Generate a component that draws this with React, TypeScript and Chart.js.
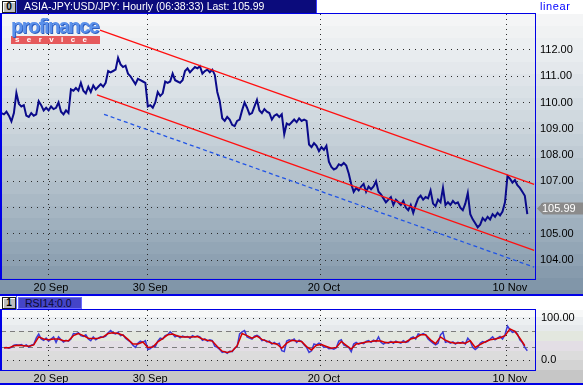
import React, { useEffect, useRef } from "react";
import { Chart, registerables } from "chart.js";

Chart.register(...registerables);

// ---------- data ----------
// x axis: trading days counted from 20 Sep (weekends removed)
const X_TICK_VALUES = [0, 8, 22, 37];
const X_TICK_LABELS = ["20 Sep", "30 Sep", "20 Oct", "10 Nov"];
const X_MIN = -3.79;
const X_MAX = 39.27;

const PRICE_START = -3.75;
const PRICE_STEP = 0.2;
const PRICES = [
  109.6, 109.55, 109.65, 109.5, 109.28, 109.6, 110.36, 109.95, 109.85, 109.9,
  109.5, 109.45, 109.6, 109.5, 109.55, 110.05, 109.9, 109.7, 109.8, 109.7,
  109.85, 109.75, 109.8, 110.0, 109.65, 109.55, 109.7, 109.6, 110.5, 110.45,
  110.55, 110.45, 110.75, 110.45, 110.35, 110.6, 110.4, 110.65, 110.5, 110.6,
  110.7, 110.6, 110.75, 111.2, 111.15, 111.2, 111.25, 111.7, 111.45, 111.35,
  111.4, 111.1, 111.0, 110.85, 110.7, 110.9, 110.85, 110.8, 110.75, 109.85,
  109.9, 109.8, 110.0, 110.4, 110.25, 110.35, 110.8, 110.75, 110.8, 111.1,
  110.85, 110.8, 110.75, 110.85, 111.2, 111.3, 111.15, 111.25, 111.35, 111.3,
  111.38, 111.1, 111.2, 111.25, 111.15, 111.25, 111.05, 110.4, 110.05, 109.4,
  109.3, 109.45, 109.35, 109.15, 109.1, 109.3, 109.35, 109.7, 110.0, 109.8,
  109.55, 109.6, 109.85, 110.1, 109.7, 109.6, 109.75, 109.65, 109.6, 109.35,
  109.5, 109.55, 109.45, 109.55, 108.8, 109.2, 109.15, 109.25, 109.35, 109.25,
  109.4, 109.3, 109.35, 109.3, 108.4, 108.3, 108.45, 108.35, 108.15, 108.3,
  108.2, 108.35, 107.75, 107.55, 107.45, 107.5, 107.65, 107.6, 107.7, 107.6,
  107.3, 106.9, 106.6, 106.75, 106.65, 106.8, 106.9, 106.6, 106.8, 106.7,
  106.8, 107.0, 106.6, 106.5, 106.35, 106.2, 106.3, 106.4, 106.1, 106.3,
  106.2, 106.1, 106.25, 106.0, 105.9, 106.1, 105.8, 106.1, 106.35, 106.45,
  106.3, 106.4, 106.35, 106.65, 106.15, 106.05, 106.3, 106.2, 106.75, 106.1,
  106.2, 106.1, 106.25, 106.15, 106.2, 106.0, 105.9, 106.15, 106.55, 105.75,
  105.55, 105.4, 105.25, 105.35, 105.6, 105.5, 105.65, 105.55, 105.75, 105.65,
  105.8, 105.7, 105.85, 106.2, 107.2, 107.1, 106.95, 107.05, 106.85, 106.75,
  106.6, 106.45, 105.75,
];
const LAST_PRICE = 105.99;
const PRICE_TICKS = [104, 105, 106, 107, 108, 109, 110, 111, 112];
const PRICE_MIN = 103.28;
const PRICE_MAX = 113.37;

// trend channel (start / end in trading days and price)
const UPPER_X = [4.19, 39.2];
const UPPER_Y = [112.76, 106.88];
const LOWER_X = [3.95, 39.2];
const LOWER_Y = [110.29, 104.37];
const DASHED_X = [4.52, 39.2];
const DASHED_Y = [109.55, 103.73];

// RSI(14)
const RSI_START = -3.55;
const RSI_STEP = 0.2;
const RSI_VALUES = [
  29, 30, 28, 30, 35, 36, 35, 37, 33, 36,
  31, 35, 37, 52, 62, 50, 47, 52, 45, 50,
  55, 42, 55, 48, 43, 47, 45, 50, 63, 62,
  65, 58, 56, 60, 50, 46, 55, 48, 52, 55,
  54, 57, 65, 70, 64, 62, 66, 58, 60, 52,
  47, 43, 35, 30, 40, 45, 42, 46, 25, 27,
  33, 32, 45, 52, 50, 58, 60, 67, 62, 55,
  58, 53, 57, 55, 56, 52, 58, 55, 57, 55,
  47, 50, 45, 48, 46, 33, 30, 25, 18, 20,
  16, 21, 20, 28, 32, 62, 67, 70, 55, 52,
  50, 57, 59, 55, 46, 48, 43, 45, 38, 42,
  37, 40, 22, 20, 45, 48, 46, 50, 42, 47,
  44, 36, 30, 18, 22, 38, 36, 40, 37, 30,
  32, 27, 28, 26, 29, 45, 48, 36, 33, 30,
  20, 38, 42, 38, 41, 39, 44, 46, 42, 47,
  44, 55, 42, 38, 42, 40, 44, 40, 45, 42,
  40, 46, 42, 44, 52, 55, 50, 62, 60, 63,
  60, 50, 45, 40, 36, 40, 60, 66, 42, 44,
  40, 43, 38, 42, 40, 43, 38, 52, 45, 30,
  25, 30, 40, 44, 42, 46, 50, 55, 48, 52,
  56, 50, 60, 81, 72, 66, 68, 62, 48, 42,
  30, 22,
];
const RSI_SIGNAL_STEP = 0.4;
const RSI_SIGNAL = [
  29, 29, 34, 35, 34, 33, 36, 55, 50, 48,
  50, 50, 46, 46, 58, 63, 58, 52, 51, 52,
  55, 63, 65, 63, 59, 49, 38, 38, 43, 30,
  31, 43, 51, 60, 62, 57, 55, 55, 55, 56,
  50, 47, 45, 32, 21, 18, 21, 34, 63, 58,
  52, 57, 49, 45, 40, 38, 28, 40, 47, 45,
  44, 32, 24, 35, 37, 32, 28, 30, 44, 35,
  26, 38, 40, 43, 44, 46, 45, 41, 42, 43,
  42, 43, 50, 53, 60, 60, 48, 39, 55, 47,
  42, 40, 41, 40, 46, 30, 37, 43, 48, 50,
  53, 58, 74, 68, 52, 34,
];
const RSI_TICKS = [0, 100];
const RSI_TICK_LABELS = ["0.0", "100.00"];
const RSI_LEVELS = [30, 70];
const RSI_MIN = -23.8;
const RSI_MAX = 119.05;

// ---------- styling helpers ----------
const FONT = "'Liberation Sans', Arial, sans-serif";
const BORDER_BLUE = "#0000e6";

function hexToRgb(h: string) {
  const n = parseInt(h.slice(1), 16);
  return [(n >> 16) & 255, (n >> 8) & 255, n & 255];
}
function lerpColor(stops: [number, string][], t: number) {
  if (t <= stops[0][0]) return stops[0][1];
  for (let i = 1; i < stops.length; i++) {
    if (t <= stops[i][0]) {
      const [t0, c0] = stops[i - 1];
      const [t1, c1] = stops[i];
      const f = (t - t0) / (t1 - t0);
      const a = hexToRgb(c0);
      const b = hexToRgb(c1);
      const r = a.map((v, k) => Math.round(v + (b[k] - v) * f));
      return `rgb(${r[0]},${r[1]},${r[2]})`;
    }
  }
  return stops[stops.length - 1][1];
}

const MAIN_BG: [number, string][] = [
  [0, "#f6f7f7"],
  [0.16, "#e7ebee"],
  [0.34, "#d3dbe1"],
  [0.52, "#bcc8d1"],
  [0.7, "#a5b5c2"],
  [0.87, "#8ea1b2"],
  [1, "#7a90a4"],
];

const mainDeco = {
  id: "mainDeco",
  beforeDraw(chart: any) {
    const { ctx, chartArea, width, height } = chart;
    const top = chartArea.top;
    ctx.save();
    ctx.fillStyle = "#ffffff";
    ctx.fillRect(0, 0, width, top);
    const band = 12;
    for (let y = top; y < height; y += band) {
      const t = (y + band / 2 - top) / (height - top);
      ctx.fillStyle = lerpColor(MAIN_BG, t);
      ctx.fillRect(0, y, width, Math.min(band, height - y));
    }
    ctx.restore();
  },
  afterDraw(chart: any) {
    const { ctx, chartArea, width, height } = chart;
    const { left, top, right, bottom } = chartArea;
    ctx.save();
    ctx.strokeStyle = BORDER_BLUE;
    ctx.lineWidth = 1;
    ctx.strokeRect(Math.round(left) - 0.5, Math.round(top) - 0.5, Math.round(right - left) + 1, Math.round(bottom - top) + 1);
    ctx.fillStyle = BORDER_BLUE;
    ctx.fillRect(0, Math.round(top), 2, bottom - top);
    ctx.fillRect(0, height - 2, width, 2);
    // last value marker
    const y = Math.round(chart.scales.y.getPixelForValue(LAST_PRICE)) + 0.5;
    const x0 = right + 2;
    ctx.fillStyle = "#8b8b8b";
    ctx.beginPath();
    ctx.moveTo(x0, y);
    ctx.lineTo(x0 + 6, y - 6);
    ctx.lineTo(width, y - 6);
    ctx.lineTo(width, y + 6);
    ctx.lineTo(x0 + 6, y + 6);
    ctx.closePath();
    ctx.fill();
    ctx.fillStyle = "#ffffff";
    ctx.font = `11px ${FONT}`;
    ctx.textBaseline = "middle";
    ctx.textAlign = "left";
    ctx.fillText(LAST_PRICE.toFixed(2), x0 + 5, y);
    ctx.restore();
  },
};

const RSI_BANDS: [number, string][] = [
  [0, "#f7f8f8"],
  [7, "#eceff1"],
  [15, "#e6e9ec"],
  [21, "#e3e7df"],
  [31, "#e3dee5"],
  [41, "#dcdcdc"],
  [50, "#d3d3d3"],
];

const rsiDeco = {
  id: "rsiDeco",
  beforeDraw(chart: any) {
    const { ctx, chartArea, width, height } = chart;
    const { top, bottom } = chartArea;
    ctx.save();
    ctx.fillStyle = "#ffffff";
    ctx.fillRect(0, 0, width, top);
    for (let i = 0; i < RSI_BANDS.length; i++) {
      const y0 = top + RSI_BANDS[i][0];
      const y1 = i + 1 < RSI_BANDS.length ? top + RSI_BANDS[i + 1][0] : bottom;
      ctx.fillStyle = RSI_BANDS[i][1];
      ctx.fillRect(0, y0, width, y1 - y0);
    }
    ctx.fillStyle = "#c6c6c6";
    ctx.fillRect(0, bottom, width, height - bottom);
    ctx.restore();
  },
  beforeDatasetsDraw(chart: any) {
    const { ctx, chartArea } = chart;
    ctx.save();
    ctx.strokeStyle = "#7d7d7d";
    ctx.lineWidth = 1;
    ctx.setLineDash([5, 4]);
    for (const lv of RSI_LEVELS) {
      const y = Math.round(chart.scales.y.getPixelForValue(lv)) + 0.5;
      ctx.beginPath();
      ctx.moveTo(chartArea.left, y);
      ctx.lineTo(chartArea.right, y);
      ctx.stroke();
    }
    ctx.restore();
  },
  afterDraw(chart: any) {
    const { ctx, chartArea, width, height } = chart;
    const { left, top, right, bottom } = chartArea;
    ctx.save();
    ctx.strokeStyle = BORDER_BLUE;
    ctx.lineWidth = 1;
    ctx.strokeRect(Math.round(left) - 0.5, Math.round(top) - 0.5, Math.round(right - left) + 1, Math.round(bottom - top) + 1);
    ctx.fillStyle = BORDER_BLUE;
    ctx.fillRect(0, Math.round(top), 2, bottom - top);
    ctx.fillRect(0, height - 2, width, 2);
    ctx.restore();
  },
};

function xAxis(height: number) {
  return {
    type: "linear" as const,
    min: X_MIN,
    max: X_MAX,
    afterBuildTicks: (s: any) => {
      s.ticks = X_TICK_VALUES.map((v) => ({ value: v }));
    },
    afterFit: (s: any) => {
      s.height = height;
    },
    ticks: {
      autoSkip: false,
      maxRotation: 0,
      padding: 2,
      labelOffset: 3,
      color: "#000",
      font: { family: FONT, size: 11 },
      callback: (v: any) => X_TICK_LABELS[X_TICK_VALUES.indexOf(Number(v))] ?? "",
    },
    grid: { color: "#2a2a2a", lineWidth: 1, drawTicks: false },
    border: { display: false, dash: [1, 4] },
  };
}

function MainChart() {
  const ref = useRef<HTMLCanvasElement>(null);
  useEffect(() => {
    const chart = new Chart(ref.current!, {
      type: "line",
      data: {
        datasets: [
          {
            data: UPPER_X.map((x, i) => ({ x, y: UPPER_Y[i] })),
            borderColor: "#ff1010",
            borderWidth: 1.3,
            pointRadius: 0,
            order: 0,
          },
          {
            data: LOWER_X.map((x, i) => ({ x, y: LOWER_Y[i] })),
            borderColor: "#ff1010",
            borderWidth: 1.3,
            pointRadius: 0,
            order: 0,
          },
          {
            data: DASHED_X.map((x, i) => ({ x, y: DASHED_Y[i] })),
            borderColor: "#2255e6",
            borderWidth: 1.3,
            borderDash: [4, 3],
            pointRadius: 0,
            order: 0,
          },
          {
            data: PRICES.map((p, i) => ({ x: PRICE_START + i * PRICE_STEP, y: p })),
            borderColor: "#0a0a8a",
            borderWidth: 2,
            pointRadius: 0,
            tension: 0,
            order: 5,
          },
        ],
      },
      options: {
        animation: false,
        responsive: false,
        maintainAspectRatio: false,
        layout: { padding: { top: 14, left: 1, right: 0, bottom: 0 } },
        plugins: { legend: { display: false }, tooltip: { enabled: false } },
        scales: {
          x: xAxis(17),
          y: {
            position: "right",
            min: PRICE_MIN,
            max: PRICE_MAX,
            afterBuildTicks: (s: any) => {
              s.ticks = PRICE_TICKS.map((v) => ({ value: v }));
            },
            afterFit: (s: any) => {
              s.width = 48;
            },
            ticks: {
              padding: 5,
              color: "#000",
              font: { family: FONT, size: 11 },
              callback: (v: any) => Number(v).toFixed(2),
            },
            grid: { color: "#2a2a2a", lineWidth: 1, drawTicks: false },
            border: { display: false, dash: [1, 5] },
          },
        },
      },
      plugins: [mainDeco],
    } as any);
    return () => chart.destroy();
  }, []);
  return <canvas ref={ref} width={583} height={296} style={{ position: "absolute", left: 0, top: 0 }} />;
}

function RsiChart() {
  const ref = useRef<HTMLCanvasElement>(null);
  useEffect(() => {
    const chart = new Chart(ref.current!, {
      type: "line",
      data: {
        datasets: [
          {
            data: RSI_SIGNAL.map((v, i) => ({ x: RSI_START + i * RSI_SIGNAL_STEP, y: v })),
            borderColor: "#d40000",
            borderWidth: 1.5,
            pointRadius: 0,
            order: 0,
          },
          {
            data: RSI_VALUES.map((v, i) => ({ x: RSI_START + i * RSI_STEP, y: v })),
            borderColor: "#3a3ad6",
            borderWidth: 1.5,
            pointRadius: 0,
            order: 5,
          },
        ],
      },
      options: {
        animation: false,
        responsive: false,
        maintainAspectRatio: false,
        layout: { padding: { top: 14, left: 1, right: 0, bottom: 0 } },
        plugins: { legend: { display: false }, tooltip: { enabled: false } },
        scales: {
          x: xAxis(15),
          y: {
            position: "right",
            min: RSI_MIN,
            max: RSI_MAX,
            afterBuildTicks: (s: any) => {
              s.ticks = RSI_TICKS.map((v) => ({ value: v }));
            },
            afterFit: (s: any) => {
              s.width = 48;
            },
            ticks: {
              padding: 6,
              color: "#000",
              font: { family: FONT, size: 11 },
              callback: (v: any) => RSI_TICK_LABELS[RSI_TICKS.indexOf(Number(v))] ?? "",
            },
            grid: { color: "#2a2a2a", lineWidth: 1, drawTicks: false },
            border: { display: false, dash: [1, 5] },
          },
        },
      },
      plugins: [rsiDeco],
    } as any);
    return () => chart.destroy();
  }, []);
  return <canvas ref={ref} width={583} height={89} style={{ position: "absolute", left: 0, top: 296 }} />;
}

const btn: React.CSSProperties = {
  position: "absolute",
  left: 2,
  width: 12,
  height: 10,
  background: "#bdbdbd",
  border: "1px solid #1a1a1a",
  boxShadow: "inset 1px 1px 0 #ffffff",
  font: `bold 10px ${FONT}`,
  color: "#000",
  textAlign: "center",
  lineHeight: "10px",
};

export default function App() {
  return (
    <div
      style={{
        position: "fixed",
        left: 0,
        top: 0,
        width: 583,
        height: 385,
        overflow: "hidden",
        background: "#fff",
        fontFamily: FONT,
      }}
    >
      <MainChart />
      <RsiChart />
      {/* header of price panel */}
      <div style={{ ...btn, top: 1 }}>0</div>
      <div style={{ position: "absolute", left: 16, top: 0, width: 1, height: 13, background: "#5a6cff" }} />
      <div
        style={{
          position: "absolute",
          left: 17,
          top: 0,
          width: 300,
          height: 13,
          background: "#0b0b7c",
          borderRight: "1px solid #3a3aff",
          color: "#fff",
          font: `10.5px ${FONT}`,
          lineHeight: "13px",
          paddingLeft: 7,
          boxSizing: "border-box",
          whiteSpace: "nowrap",
        }}
      >
        ASIA-JPY:USD/JPY: Hourly (06:38:33) Last: 105.99
      </div>
      <div
        style={{
          position: "absolute",
          left: 540,
          top: 1,
          color: "#0000ff",
          font: `11px ${FONT}`,
          lineHeight: "11px",
          letterSpacing: 0.6,
        }}
      >
        linear
      </div>
      {/* logo */}
      <div style={{ position: "absolute", left: 11, top: 17, width: 89, height: 27 }}>
        <div
          style={{
            font: `bold 20px ${FONT}`,
            letterSpacing: -1.5,
            color: "#5a90ea",
            lineHeight: "19px",
            height: 19,
            textShadow: "1px 1px 0 #2c5cc0",
            whiteSpace: "nowrap",
          }}
        >
          profinance
        </div>
        <div
          style={{
            background: "#e65a5c",
            height: 8,
            color: "#fff",
            font: `bold 8px ${FONT}`,
            lineHeight: "8px",
            letterSpacing: 7.4,
            paddingLeft: 4,
            whiteSpace: "nowrap",
          }}
        >
          service
        </div>
      </div>
      {/* header of RSI panel */}
      <div style={{ ...btn, top: 297 }}>1</div>
      <div style={{ position: "absolute", left: 16, top: 296, width: 1, height: 14, background: "#5a6cff" }} />
      <div
        style={{
          position: "absolute",
          left: 18,
          top: 297,
          width: 64,
          height: 12,
          background: "#4444c8",
          border: "1px solid #6a6aff",
          boxSizing: "border-box",
          color: "#0a0a30",
          font: `10.5px ${FONT}`,
          lineHeight: "11px",
          paddingLeft: 6,
          whiteSpace: "nowrap",
        }}
      >
        RSI14:0.0
      </div>
    </div>
  );
}
